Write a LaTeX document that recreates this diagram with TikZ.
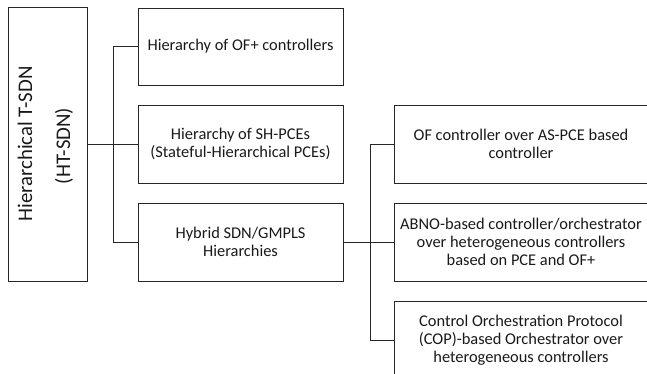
\documentclass[tikz,border=0pt]{standalone}
\usepackage{fontspec}
\setmainfont{Carlito}
\begin{document}
\begin{tikzpicture}[x=1pt,y=-1pt,
  box/.style={draw=black!85,line width=0.9pt,rectangle,inner sep=0pt,align=center,
    font=\fontsize{16.4}{17.8}\selectfont,text=black!90},
  conn/.style={draw=black!85,line width=0.9pt},
  big/.style={font=\fontsize{20.8}{24}\selectfont,text=black!90,inner sep=0pt}]
\useasboundingbox (0,0) rectangle (647,374);
\clip (0,0) rectangle (647,374);
\node[box,minimum width=79pt,minimum height=274pt] (root) at (47.5,144) {};
\node[big,rotate=90] (t1) at (25,144) {Hierarchical T-SDN};
\node[big,rotate=90] (t2) at (64,146) {(HT-SDN)};
\node[box,minimum width=205pt,minimum height=77pt] (m1) at (240.5,46.5) {Hierarchy of OF+ controllers};
\node[box,minimum width=205pt,minimum height=78pt] (m2) at (240.5,144) {Hierarchy of SH-PCEs\\(Stateful-Hierarchical PCEs)};
\node[box,minimum width=205pt,minimum height=78pt] (m3) at (240.5,242) {Hybrid SDN/GMPLS\\Hierarchies};
\node[box,minimum width=254pt,minimum height=78pt] (r1) at (521,144) {OF controller over AS-PCE based\\controller};
\node[box,minimum width=254pt,minimum height=78pt] (r2) at (521,242) {ABNO-based controller/orchestrator\\over heterogeneous controllers\\based on PCE and OF+};
\node[box,minimum width=254pt,minimum height=78pt] (r3) at (521,340) {Control Orchestration Protocol\\(COP)-based Orchestrator over\\heterogeneous controllers};
\coordinate (j1) at (113,144);
\coordinate (j2) at (370,242);
\draw[conn] (root.east) -- (m2.west);
\draw[conn] (m1.west) -- (m1.west -| j1) -- (m3.west -| j1) -- (m3.west);
\draw[conn] (m3.east) -- (r2.west);
\draw[conn] (r1.west) -- (r1.west -| j2) -- (r3.west -| j2) -- (r3.west);
\end{tikzpicture}
\end{document}
